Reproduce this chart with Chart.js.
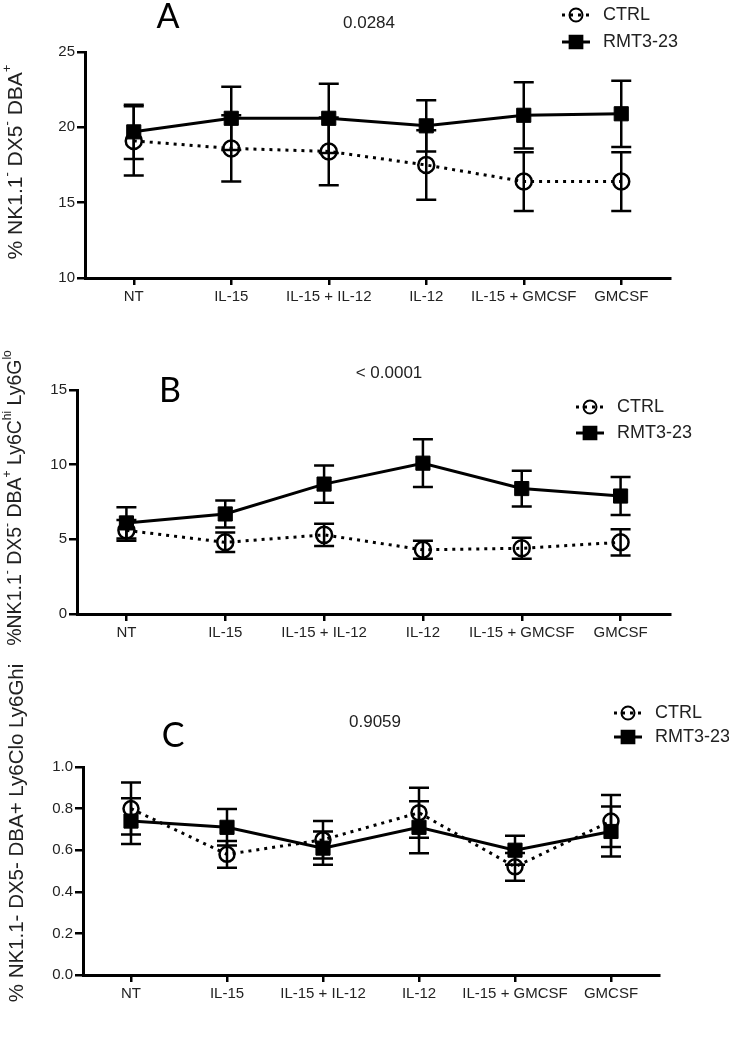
<!DOCTYPE html>
<html>
<head>
<meta charset="utf-8">
<script src="https://cdn.jsdelivr.net/npm/chart.js@4.4.1/dist/chart.umd.min.js"></script>
<style>
  html, body { margin: 0; padding: 0; background: #fff; }
  #wrap { position: relative; width: 729px; height: 1037px; }
  canvas { position: absolute; left: 0; }
</style>
</head>
<body>
<div id="wrap">
  <canvas id="chartA" width="729" height="320" style="top:0px"></canvas>
  <canvas id="chartB" width="729" height="340" style="top:320px"></canvas>
  <canvas id="chartC" width="729" height="377" style="top:660px"></canvas>
</div>
<script>
// Data (mean and error bar half-height)
const categories = ['NT', 'IL-15', 'IL-15 + IL-12', 'IL-12', 'IL-15 + GMCSF', 'GMCSF'];

const ctrlA = [19.1, 18.6, 18.4, 17.5, 16.4, 16.4];
const ctrlA_err = [2.3, 2.2, 2.25, 2.3, 1.95, 1.95];
const rmtA = [19.7, 20.6, 20.6, 20.1, 20.8, 20.9];
const rmtA_err = [1.8, 2.1, 2.3, 1.7, 2.2, 2.2];
const ticksA = [10, 15, 20, 25];

const ctrlB = [5.6, 4.8, 5.3, 4.3, 4.4, 4.8];
const ctrlB_err = [0.7, 0.65, 0.75, 0.6, 0.7, 0.88];
const rmtB = [6.1, 6.7, 8.7, 10.1, 8.4, 7.9];
const rmtB_err = [1.05, 0.9, 1.25, 1.6, 1.2, 1.27];
const ticksB = [0, 5, 10, 15];

const ctrlC = [0.80, 0.58, 0.65, 0.78, 0.52, 0.74];
const ctrlC_err = [0.125, 0.064, 0.09, 0.12, 0.067, 0.125];
const rmtC = [0.74, 0.71, 0.61, 0.71, 0.60, 0.69];
const rmtC_err = [0.11, 0.088, 0.08, 0.125, 0.07, 0.12];
const ticksC = [0, 0.2, 0.4, 0.6, 0.8, 1.0];

const FONT = '"Liberation Sans", Arial, sans-serif';
const TEXT = '#222';

// error bars drawn under the lines/markers
const errorBars = {
  id: 'errorBars',
  beforeDatasetsDraw(chart) {
    const ctx = chart.ctx;
    const y = chart.scales.y;
    chart.data.datasets.forEach((ds, i) => {
      const meta = chart.getDatasetMeta(i);
      ctx.save();
      ctx.strokeStyle = '#000';
      ctx.lineWidth = 2.5;
      meta.data.forEach((pt, j) => {
        const top = y.getPixelForValue(ds.data[j] + ds.err[j]);
        const bot = y.getPixelForValue(ds.data[j] - ds.err[j]);
        ctx.beginPath();
        ctx.moveTo(pt.x, top); ctx.lineTo(pt.x, bot);
        ctx.moveTo(pt.x - 10, top); ctx.lineTo(pt.x + 10, top);
        ctx.moveTo(pt.x - 10, bot); ctx.lineTo(pt.x + 10, bot);
        ctx.stroke();
      });
      ctx.restore();
    });
  }
};

function drawRotatedTitle(ctx, parts, cx, cy, size) {
  ctx.save();
  ctx.translate(cx, cy);
  ctx.rotate(-Math.PI / 2);
  const big = size + 'px ' + FONT;
  const small = Math.round(size * 0.62) + 'px ' + FONT;
  let total = 0;
  parts.forEach(p => {
    ctx.font = p.sup ? small : big;
    p.w = ctx.measureText(p.text).width;
    total += p.w;
  });
  let x = -total / 2;
  ctx.fillStyle = TEXT;
  ctx.textAlign = 'left';
  ctx.textBaseline = 'middle';
  parts.forEach(p => {
    ctx.font = p.sup ? small : big;
    ctx.fillText(p.text, x, p.sup ? -size * 0.42 : 0);
    x += p.w;
  });
  ctx.restore();
}

// panel letter, p-value, legend and y title
const panelDecor = {
  id: 'panelDecor',
  afterDraw(chart, args, o) {
    const ctx = chart.ctx;
    ctx.save();
    ctx.textBaseline = 'middle';
    ctx.textAlign = 'center';
    ctx.fillStyle = '#000';
    ctx.font = '34px Lato, "Open Sans", sans-serif';
    ctx.fillText(o.letter, o.letterX, o.letterY);

    ctx.fillStyle = TEXT;
    ctx.font = '17px ' + FONT;
    ctx.fillText(o.pvalue, o.pX, o.pY);

    chart.data.datasets.forEach((ds, i) => {
      const y = o.legY + i * o.legGap;
      ctx.beginPath();
      ctx.setLineDash(ds.borderDash || []);
      ctx.lineWidth = 3;
      ctx.strokeStyle = '#000';
      ctx.moveTo(o.legX - 14, y);
      ctx.lineTo(o.legX + 14, y);
      ctx.stroke();
      ctx.setLineDash([]);
      ctx.lineWidth = 2;
      ctx.fillStyle = ds.pointBackgroundColor;
      Chart.helpers.drawPoint(ctx, {
        pointStyle: ds.pointStyle, rotation: 0,
        radius: ds.pointStyle === 'rect' ? 9 : 6.5, borderWidth: 2
      }, o.legX, y);
      ctx.fillStyle = TEXT;
      ctx.textAlign = 'left';
      ctx.font = '18px ' + FONT;
      ctx.fillText(ds.label, o.legX + 27, y);
    });

    drawRotatedTitle(ctx, o.title, o.titleX, o.titleY, o.titleSize);
    ctx.restore();
  }
};

function buildChart(id, c) {
  return new Chart(document.getElementById(id), {
    type: 'line',
    data: {
      labels: categories,
      datasets: [
        {
          label: 'CTRL', data: c.ctrl, err: c.ctrlErr,
          borderColor: '#000', borderWidth: 3, borderDash: [3, 5],
          pointStyle: 'circle', pointRadius: c.circleR, pointBorderWidth: 2.5,
          pointBackgroundColor: 'rgba(0,0,0,0)', pointBorderColor: '#000',
          fill: false, tension: 0
        },
        {
          label: 'RMT3-23', data: c.rmt, err: c.rmtErr,
          borderColor: '#000', borderWidth: 3,
          pointStyle: 'rect', pointRadius: 10, pointBorderWidth: 1,
          pointBackgroundColor: '#000', pointBorderColor: '#000',
          fill: false, tension: 0
        }
      ]
    },
    options: {
      responsive: false,
      animation: false,
      layout: { padding: { top: c.top, right: 729 - c.right, left: 0, bottom: 0 } },
      plugins: {
        legend: { display: false },
        tooltip: { enabled: false },
        panelDecor: c.decor
      },
      scales: {
        x: {
          type: 'category',
          offset: true,
          grid: { offset: false, drawOnChartArea: false, tickLength: 7, color: '#000', lineWidth: 2.5 },
          border: { color: '#000', width: 3 },
          ticks: { color: TEXT, font: { family: FONT, size: 15 }, padding: 3, maxRotation: 0, autoSkip: false },
          afterFit: s => { s.height = c.height - c.bottom; }
        },
        y: {
          min: c.ticks[0],
          max: c.ticks[c.ticks.length - 1],
          grid: { drawOnChartArea: false, tickLength: 8, color: '#000', lineWidth: 2.5 },
          border: { color: '#000', width: 3 },
          ticks: {
            stepSize: c.ticks[1] - c.ticks[0],
            color: TEXT, font: { family: FONT, size: 15 }, padding: 2,
            callback: v => c.decimals ? v.toFixed(c.decimals) : v
          },
          afterFit: s => { s.width = c.left; }
        }
      }
    },
    plugins: [errorBars, panelDecor]
  });
}

buildChart('chartA', {
  ctrl: ctrlA, ctrlErr: ctrlA_err, rmt: rmtA, rmtErr: rmtA_err, ticks: ticksA,
  height: 320, top: 52, bottom: 278, left: 85, right: 670, circleR: 8,
  decor: {
    letter: 'A', letterX: 168, letterY: 17,
    pvalue: '0.0284', pX: 369, pY: 23,
    legX: 576, legY: 15, legGap: 27,
    titleX: 16, titleY: 162, titleSize: 21,
    title: [{ text: '% NK1.1' }, { text: '-', sup: true }, { text: ' DX5' }, { text: '-', sup: true },
            { text: ' DBA' }, { text: '+', sup: true }]
  }
});

buildChart('chartB', {
  ctrl: ctrlB, ctrlErr: ctrlB_err, rmt: rmtB, rmtErr: rmtB_err, ticks: ticksB,
  height: 340, top: 70, bottom: 294, left: 77, right: 670, circleR: 8,
  decor: {
    letter: 'B', letterX: 170, letterY: 71,
    pvalue: '< 0.0001', pX: 389, pY: 53,
    legX: 590, legY: 87, legGap: 26,
    titleX: 16, titleY: 178, titleSize: 19.5,
    title: [{ text: '%NK1.1' }, { text: '-', sup: true }, { text: ' DX5' }, { text: '-', sup: true },
            { text: ' DBA' }, { text: '+', sup: true }, { text: ' Ly6C' }, { text: 'hi', sup: true },
            { text: ' Ly6G' }, { text: 'lo', sup: true }]
  }
});

buildChart('chartC', {
  ctrl: ctrlC, ctrlErr: ctrlC_err, rmt: rmtC, rmtErr: rmtC_err, ticks: ticksC, decimals: 1,
  height: 377, top: 107, bottom: 315, left: 83, right: 659, circleR: 7.5,
  decor: {
    letter: 'C', letterX: 173, letterY: 76,
    pvalue: '0.9059', pX: 375, pY: 62,
    legX: 628, legY: 53, legGap: 24,
    titleX: 17, titleY: 173, titleSize: 20.5,
    title: [{ text: '% NK1.1- DX5- DBA+ Ly6Clo Ly6Ghi' }]
  }
});
</script>
</body>
</html>
